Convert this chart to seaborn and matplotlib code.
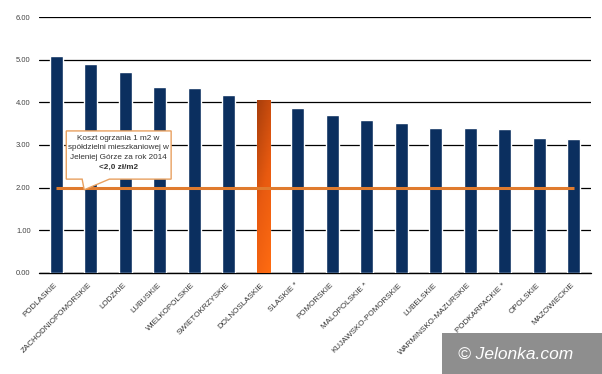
import numpy as np
import pandas as pd
import matplotlib
matplotlib.use("Agg")
import matplotlib.pyplot as plt
import seaborn as sns
from matplotlib.patches import Polygon, Rectangle
from matplotlib.colors import LinearSegmentedColormap

regions = ["PODLASKIE", "ZACHODNIOPOMORSKIE", "LODZKIE", "LUBUSKIE",
           "WIELKOPOLSKIE", "SWIETOKRZYSKIE", "DOLNOSLASKIE", "SLASKIE *",
           "POMORSKIE", "MALOPOLSKIE *", "KUJAWSKO-POMORSKIE", "LUBELSKIE",
           "WARMINSKO-MAZURSKIE", "PODKARPACKIE *", "OPOLSKIE", "MAZOWIECKIE"]
costs = [5.09, 4.89, 4.71, 4.36, 4.33, 4.17, 4.05, 3.87,
         3.70, 3.59, 3.52, 3.41, 3.41, 3.38, 3.17, 3.15]
highlight = "DOLNOSLASKIE"
reference_value = 2.0
y_ticks = [0, 1, 2, 3, 4, 5, 6]
callout_lines = ["Koszt ogrzania 1 m2 w", "spółdzielni mieszkaniowej w",
                 "Jeleniej Górze za rok 2014"]
callout_bold = "<2,0 zł/m2"

sns.set_theme(style="white")
plt.rcParams['font.family'] = ['Liberation Sans', 'DejaVu Sans']

fig = plt.figure(figsize=(6.02, 3.74), dpi=100)
ax = fig.add_axes([0.0648, 0.2701, 0.9169, 0.6844])

df = pd.DataFrame({"region": regions, "cost": costs})
navy = "#0B2F5F"
palette = {r: ("#E8650F" if r == highlight else navy) for r in regions}
sns.barplot(data=df, x="region", y="cost", hue="region", palette=palette,
            width=0.38, legend=False, ax=ax, saturation=1, zorder=2)

xlim = ax.get_xlim()
# diagonal gradient on highlighted bar
hi = regions.index(highlight)
for p in ax.patches:
    cx = p.get_x() + p.get_width() / 2
    if abs(cx - hi) < 0.01:
        x0, w, h = p.get_x(), p.get_width(), p.get_height()
        yy, xx = np.mgrid[0:1:256j, 0:1:32j]
        grad = 0.75 * yy + 0.25 * (1 - xx)
        cmap = LinearSegmentedColormap.from_list("g", ["#FF6C12", "#E85A10", "#A83E0C"])
        im = ax.imshow(grad, extent=[x0, x0 + w, 0, h], origin="lower",
                       cmap=cmap, aspect="auto", zorder=2.5)
        im.set_clip_path(p)

ax.set_xlim(xlim)
ax.set_ylim(0, 6)
ax.set_aspect("auto")

ax.hlines(reference_value, 0, len(regions) - 1, color="#E07B2E", lw=2.2, zorder=3)

ax.set_yticks(y_ticks)
ax.set_yticklabels([f"{v:.2f}" for v in y_ticks])
ax.yaxis.grid(True, color="black", lw=0.9)
ax.set_axisbelow(True)
ax.axhline(0, color="black", lw=1.0, clip_on=False, zorder=1)
for s in ax.spines.values():
    s.set_visible(False)
ax.tick_params(axis="y", length=0, pad=6, labelsize=5.5, labelcolor="#444444")
ax.tick_params(axis="x", length=0, pad=8, labelsize=5.8, labelcolor="#333333")
ax.set_xticks(range(len(regions)))
ax.set_xticklabels(regions, rotation=45, ha="right", va="center", rotation_mode="anchor")
ax.set_xlabel("")
ax.set_ylabel("")

# callout box
verts = [(0.29, 2.20), (0.75, 2.20), (0.81, 1.95), (1.54, 2.20), (3.33, 2.20),
         (3.33, 3.33), (0.29, 3.33)]
ax.add_patch(Polygon(verts, closed=True, facecolor="white", edgecolor="#E8A060",
                     lw=1.0, zorder=4))
ys = [3.16, 2.93, 2.70]
for t, yy in zip(callout_lines, ys):
    ax.text(1.80, yy, t, ha="center", va="center", fontsize=5.9, color="#333333", zorder=5)
ax.text(1.80, 2.47, callout_bold, ha="center", va="center", fontsize=5.9,
        color="#333333", fontweight="bold", zorder=5)

# watermark
fig.patches.append(Rectangle((442 / 602, 0), 160 / 602, 41 / 374, transform=fig.transFigure,
                             facecolor="#8E8E8E", edgecolor="none", zorder=10))
fig.text(516 / 602, 1 - 354 / 374, "© Jelonka.com", ha="center", va="center",
         fontsize=12.5, color="white", style="italic", zorder=11)

fig.savefig("out.png", dpi=100)
